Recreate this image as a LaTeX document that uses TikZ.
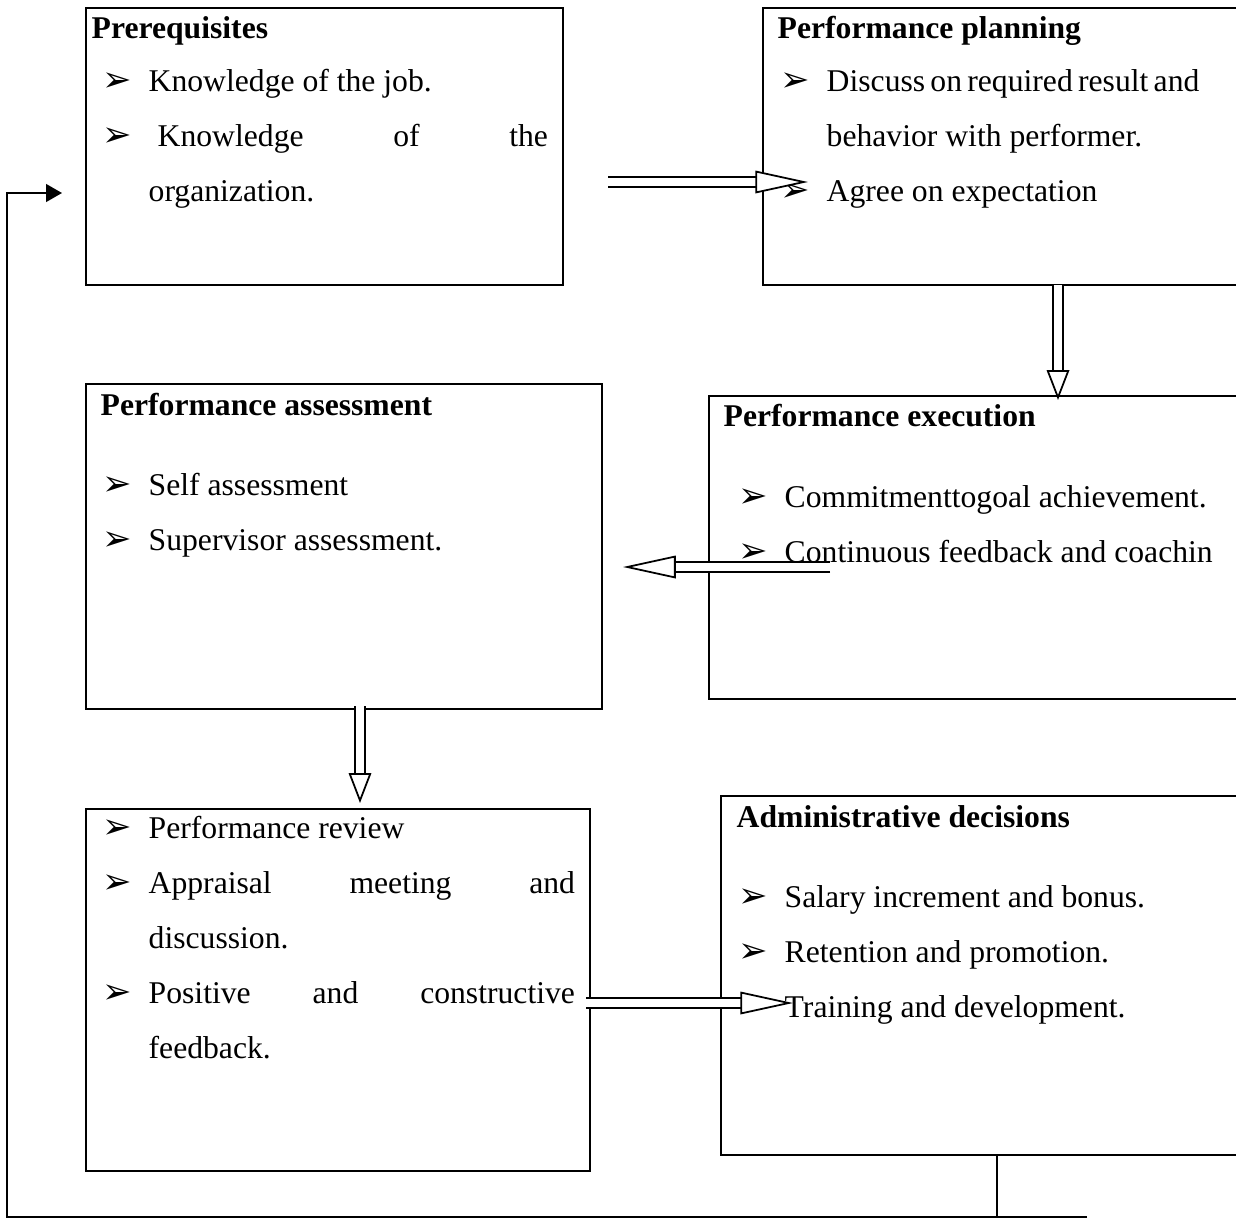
\documentclass[tikz,border=0pt]{standalone}
\usepackage{fontspec}
\setmainfont{Liberation Serif}
\newfontfamily\dingfont{DejaVu Sans}
\usetikzlibrary{arrows.meta}
\newcommand{\bul}{\makebox[0.46cm][l]{\dingfont\fontsize{10}{10}\selectfont ➢}}
\tikzset{
  box/.style={draw, line width=0.6pt, anchor=north west, inner sep=0pt},
  txt/.style={anchor=base west, inner sep=0pt, font=\fontsize{9}{11}\selectfont},
  ttl/.style={anchor=base west, inner sep=0pt, font=\fontsize{9}{11}\selectfont\bfseries},
  hollow/.style={double, line width=0.5pt, double distance=2.3pt, -{Triangle[fill=white, length=15pt, width=6.4pt]}},
  hollowshort/.style={hollow, -{Triangle[fill=white, length=8.5pt, width=6.4pt]}},
}
\begin{document}
\begin{tikzpicture}[x=0.01cm, y=-0.01cm]
\clip (0,0) rectangle (1236,1221);
% boxes
\node[box, minimum width=4.77cm, minimum height=2.77cm] (prereq) at (85,7) {};
\node[box, minimum width=5.2cm, minimum height=2.77cm] (plan) at (762,7) {};
\node[box, minimum width=5.16cm, minimum height=3.25cm] (assess) at (85,383) {};
\node[box, minimum width=5.6cm, minimum height=3.03cm] (exec) at (708,395) {};
\node[box, minimum width=5.04cm, minimum height=3.62cm] (review) at (85,808) {};
\node[box, minimum width=5.5cm, minimum height=3.59cm] (admin) at (720,795) {};
% Prerequisites
\node[ttl] (pt) at (91,38) {Prerequisites};
\node[txt] (p1) at (102,91) {\bul Knowledge of the job.};
\node[txt] (p2) at (102,146) {\bul\makebox[3.99cm][s]{\hspace*{0.09cm}Knowledge\hfill of\hfill the}};
\node[txt] (p3) at (148,201) {organization.};
% Performance planning
\node[ttl] (qt) at (777,38) {Performance planning};
\node[txt] (q1) at (780,91) {\bul\makebox[3.71cm][s]{Discuss on required result and}};
\node[txt] (q2) at (826,146) {behavior with performer.};
\node[txt] (q3) at (780,201) {\bul Agree on expectation};
% Performance assessment
\node[ttl] (at) at (100,415) {Performance assessment};
\node[txt] (a1) at (102,495) {\bul Self assessment};
\node[txt] (a2) at (102,550) {\bul Supervisor assessment.};
% Performance execution
\node[ttl] (et) at (723,426) {Performance execution};
\node[txt] (e1) at (738,507) {\bul Commitmenttogoal achievement.};
\node[txt] (e2) at (738,562) {\bul Continuous feedback and coachin};
% review
\node[txt] (r1) at (102,838) {\bul Performance review};
\node[txt] (r2) at (102,893) {\bul\makebox[4.26cm][s]{Appraisal meeting and}};
\node[txt] (r3) at (148,948) {discussion.};
\node[txt] (r4) at (102,1003) {\bul\makebox[4.26cm][s]{Positive and constructive}};
\node[txt] (r5) at (148,1058) {feedback.};
% Administrative decisions
\node[ttl] (dt) at (736,827) {Administrative decisions};
\node[txt] (d1) at (738,907) {\bul Salary increment and bonus.};
\node[txt] (d2) at (738,962) {\bul Retention and promotion.};
\node[txt] (d3) at (738,1017) {\bul Training and development.};
% block arrows
\coordinate (h1) at (608,182);  \coordinate (t1) at (808,182);
\coordinate (h2) at (1058,285); \coordinate (t2) at (1058,400);
\coordinate (h3) at (830,567);  \coordinate (t3) at (623,567);
\coordinate (h4) at (360,706);  \coordinate (t4) at (360,803);
\coordinate (h5) at (586,1003); \coordinate (t5) at (793,1003);
\draw[hollow] (h1) -- (t1);
\draw[hollowshort] (h2) -- (t2);
\draw[hollow] (h3) -- (t3);
\draw[hollowshort] (h4) -- (t4);
\draw[hollow] (h5) -- (t5);
% feedback loop
\coordinate (fj) at (997,1217);
\coordinate (fr) at (1087,1217);
\coordinate (fl) at (7,1217);
\coordinate (fe) at (62,193);
\draw[line width=0.6pt] (admin.south -| fj) -- (fj);
\draw[line width=0.6pt, -{Triangle[length=4.5pt, width=5pt]}] (fr) -- (fl) |- (fe);
\end{tikzpicture}
\end{document}
